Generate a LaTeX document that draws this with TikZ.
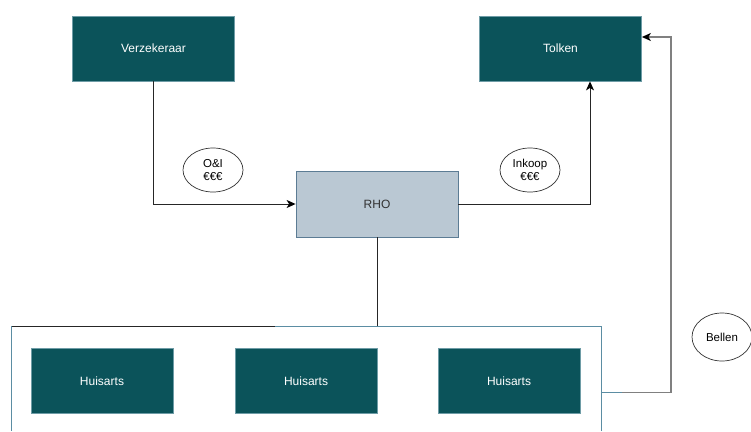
\documentclass[tikz,border=0pt]{standalone}
\usepackage{fontspec}
\setmainfont{Liberation Sans}
\usetikzlibrary{arrows,arrows.meta,positioning,shapes,calc}
\definecolor{tealbox}{HTML}{0B535A}
\definecolor{tealline}{HTML}{6E9CA6}
\definecolor{rhofill}{HTML}{BAC8D3}
\definecolor{rholine}{HTML}{5C7C94}
\definecolor{groupline}{HTML}{5B8DA3}
\tikzset{
  >={Stealth[length=9pt,width=8pt,inset=2.5pt,color=black]},
  partij/.style={rectangle, fill=tealbox, draw=tealline, line width=0.8pt, text=white,
                 minimum width=162pt, minimum height=65pt, inner sep=0pt,
                 font=\fontsize{12}{14}\selectfont},
  arts/.style={partij, minimum width=142pt, minimum height=65pt},
  regio/.style={rectangle, fill=rhofill, draw=rholine, line width=0.8pt, text=black!80,
                minimum width=162pt, minimum height=66pt, inner sep=0pt,
                font=\fontsize{12}{14}\selectfont},
  geld/.style={ellipse, draw=black!80, fill=white, line width=0.7pt, minimum width=60pt,
               minimum height=44pt, inner sep=0pt, align=center,
               font=\fontsize{11.5}{13}\selectfont},
  line/.style={draw, line width=0.9pt, color=black!85},
  grijs/.style={draw, line width=1.1pt, color=black!50}
}
\begin{document}
\begin{tikzpicture}[x=1pt,y=-1pt]
      \useasboundingbox (0,0) rectangle (751,431);

      % Draw the parties.
      \node[partij] (verzekeraar) at (153.5,48.5) {Verzekeraar};
      \node[partij] (tolken) at (560.5,48.5) {Tolken};
      \node[regio] (rho) at (377,204) {RHO};

      % Draw the group of GPs.
      \draw[groupline, line width=0.8pt] (601,431) |- (11.5,326) -- (11.5,431);
      \coordinate (groep) at (377,326);
      \coordinate (groeprechts) at (601,392.5);
      \node[arts] (arts1) at (102,381) {Huisarts};
      \node[arts] (arts2) at (306,381) {Huisarts};
      \node[arts] (arts3) at (509,381) {Huisarts};

      % Draw money flows.
      \node[geld] (oi) at (213,170) {O\&I\\€€€};
      \node[geld] (inkoop) at (530,170) {Inkoop\\€€€};
      \node[geld, minimum height=48pt] (bellen) at (722,337) {Bellen};

      % Draw connectors.
      \draw[line,->] (verzekeraar.south) |- (rho.west);
      \draw[line,->] (rho.east) -| ($(tolken.south)+(29.5,0)$);
      \draw[line] (rho.south) -- (groep);
      \draw[line] (11.5,326) -- (275,326);
      \draw[grijs,->] (groeprechts) -- (671,392.5) |- ($(tolken.east)+(0,-11.5)$);
      \draw[groupline, line width=0.8pt] (groeprechts) -- (622,392.5);

    \end{tikzpicture}
\end{document}
